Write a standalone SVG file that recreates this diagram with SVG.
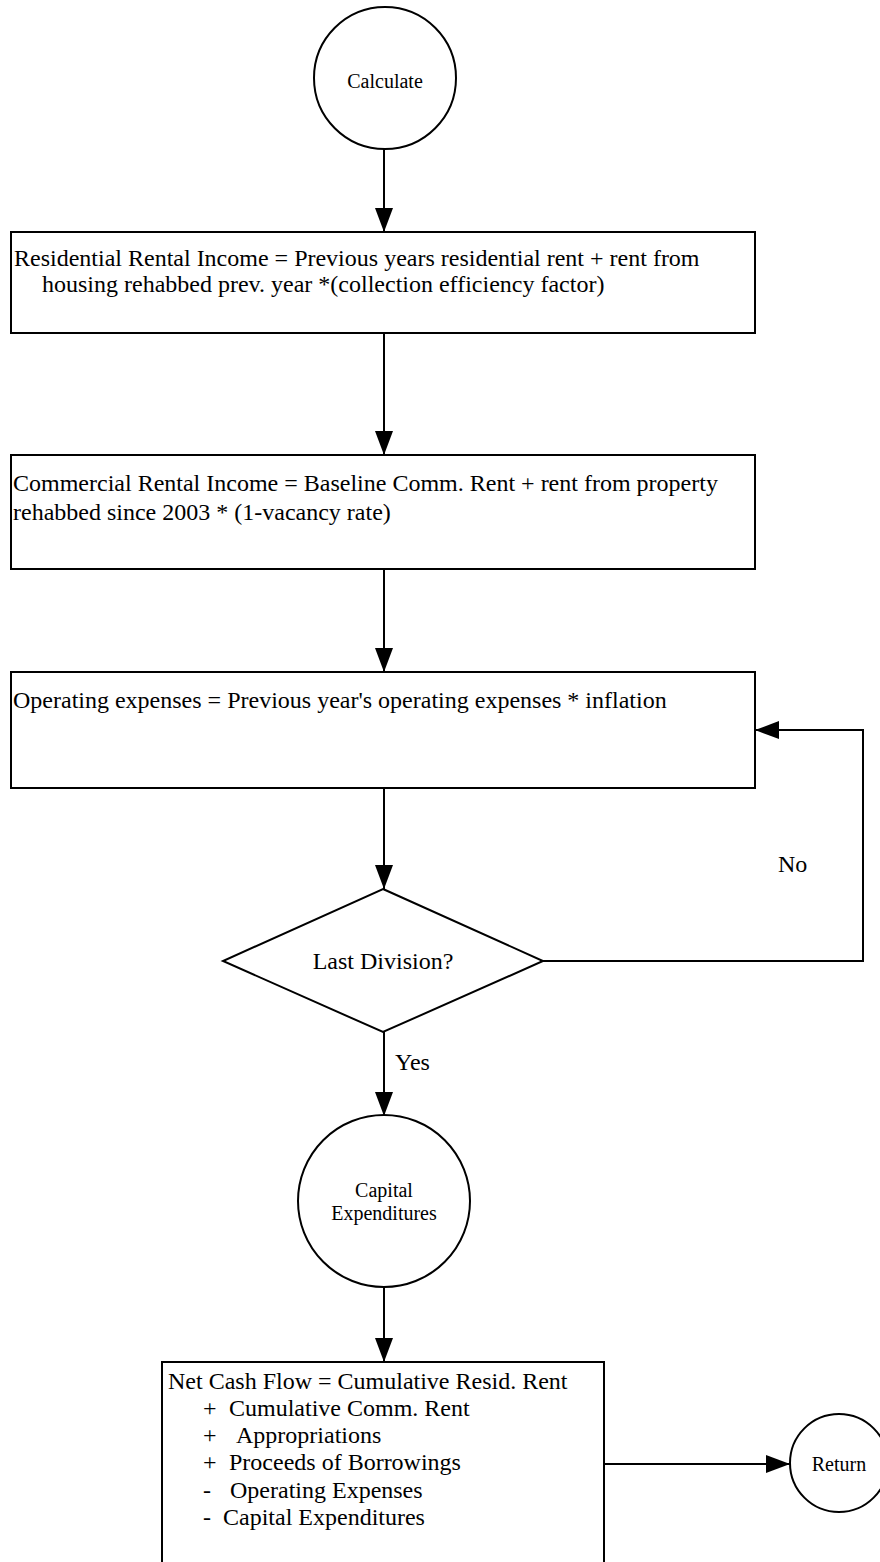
<svg xmlns="http://www.w3.org/2000/svg" width="880" height="1562" viewBox="0 0 880 1562">
  <style>
    .shape { fill: #ffffff; stroke: #000000; stroke-width: 2; }
    .wire { fill: none; stroke: #000000; stroke-width: 2; }
    .t { font-family: "Liberation Serif", "Times New Roman", serif; font-size: 24px; fill: #000000; }
    .ts { font-family: "Liberation Serif", "Times New Roman", serif; font-size: 20px; fill: #000000; }
    .mid { text-anchor: middle; }
  </style>
  <defs>
    <marker id="arrow" markerUnits="userSpaceOnUse" markerWidth="26" markerHeight="20" refX="24" refY="9" orient="auto">
      <path d="M0,0 L24,9 L0,18 Z" fill="#000000"/>
    </marker>
  </defs>
  <rect width="880" height="1562" fill="#ffffff"/>

  <!-- connectors -->
  <g id="connectors">
    <line class="wire" x1="384" y1="149" x2="384" y2="232" marker-end="url(#arrow)"/>
    <line class="wire" x1="384" y1="333" x2="384" y2="455" marker-end="url(#arrow)"/>
    <line class="wire" x1="384" y1="569" x2="384" y2="672" marker-end="url(#arrow)"/>
    <line class="wire" x1="384" y1="788" x2="384" y2="889" marker-end="url(#arrow)"/>
    <polyline class="wire" points="543,961 863,961 863,730 755,730" marker-end="url(#arrow)"/>
    <line class="wire" x1="384" y1="1032" x2="384" y2="1116" marker-end="url(#arrow)"/>
    <line class="wire" x1="384" y1="1287" x2="384" y2="1362" marker-end="url(#arrow)"/>
    <line class="wire" x1="604" y1="1464" x2="790" y2="1464" marker-end="url(#arrow)"/>
    <text class="t" x="778" y="872">No</text>
    <text class="t" x="395" y="1070">Yes</text>
  </g>

  <g id="calculate">
    <circle class="shape" cx="385" cy="78" r="71"/>
    <text class="ts mid" x="385" y="88">Calculate</text>
  </g>

  <g id="residential-income">
    <rect class="shape" x="11" y="232" width="744" height="101"/>
    <text class="t" x="14" y="266">Residential Rental Income = Previous years residential rent + rent from</text>
    <text class="t" x="42" y="292">housing rehabbed prev. year *(collection efficiency factor)</text>
  </g>

  <g id="commercial-income">
    <rect class="shape" x="11" y="455" width="744" height="114"/>
    <text class="t" x="13" y="491">Commercial Rental Income = Baseline Comm. Rent + rent from property</text>
    <text class="t" x="13" y="520">rehabbed since 2003 * (1-vacancy rate)</text>
  </g>

  <g id="operating-expenses">
    <rect class="shape" x="11" y="672" width="744" height="116"/>
    <text class="t" x="13" y="708">Operating expenses = Previous year's operating expenses * inflation</text>
  </g>

  <g id="last-division">
    <polygon class="shape" points="383,889 543,961 383,1032 223,961"/>
    <text class="t mid" x="383" y="969">Last Division?</text>
  </g>

  <g id="capital-expenditures">
    <circle class="shape" cx="384" cy="1201" r="86"/>
    <text class="ts mid" x="384" y="1197">Capital</text>
    <text class="ts mid" x="384" y="1220">Expenditures</text>
  </g>

  <g id="net-cash-flow">
    <rect class="shape" x="162" y="1362" width="442" height="210"/>
    <text class="t" x="168" y="1389">Net Cash Flow = Cumulative Resid. Rent</text>
    <text class="t" y="1416"><tspan x="203">+</tspan><tspan x="229">Cumulative Comm. Rent</tspan></text>
    <text class="t" y="1443"><tspan x="203">+</tspan><tspan x="236">Appropriations</tspan></text>
    <text class="t" y="1470"><tspan x="203">+</tspan><tspan x="229">Proceeds of Borrowings</tspan></text>
    <text class="t" y="1498"><tspan x="203">-</tspan><tspan x="230">Operating Expenses</tspan></text>
    <text class="t" y="1525"><tspan x="203">-</tspan><tspan x="223">Capital Expenditures</tspan></text>
  </g>

  <g id="return">
    <circle class="shape" cx="839" cy="1463" r="49"/>
    <text class="ts mid" x="839" y="1471">Return</text>
  </g>
</svg>
